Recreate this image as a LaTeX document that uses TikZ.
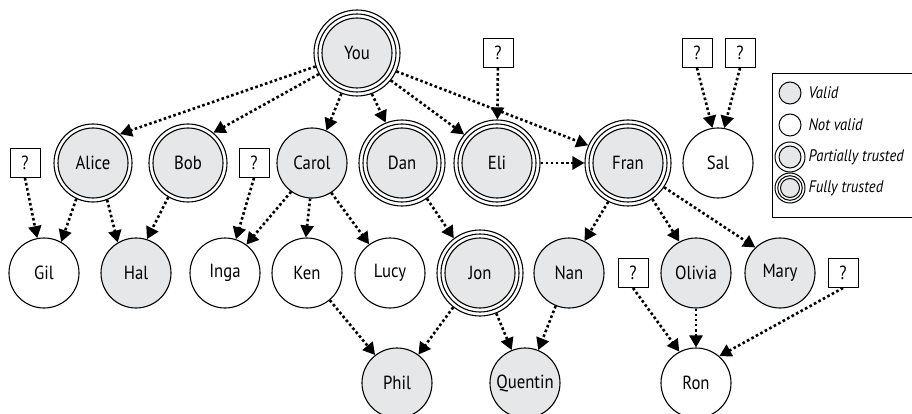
\documentclass[tikz,border=0pt]{standalone}
\usepackage{fontspec}
\setmainfont{PT Sans}[FakeStretch=0.88]
\usepackage{tikz}
\usetikzlibrary{arrows.meta}
\definecolor{validgrey}{RGB}{230,231,232}
\tikzset{
ring/.style={circle,draw,line width=1.1pt,inner sep=0pt,minimum size=#1},
notvalid/.style={ring=70pt},
valid/.style={ring=70pt,fill=validgrey},
partial/.style={ring=78pt,path picture={\draw[line width=1.1pt,fill=validgrey] (path picture bounding box.center) circle (35pt);}},
fully/.style={ring=86pt,path picture={\draw[line width=1.1pt,fill=validgrey] (path picture bounding box.center) circle (35pt);\draw[line width=1.1pt] (path picture bounding box.center) circle (39pt);}},
unknown/.style={draw,line width=0.9pt,minimum width=30pt,minimum height=29pt,inner sep=0pt,fill=white},
link/.style={line width=2.6pt,dash pattern=on 2.6pt off 2.5pt,-{Triangle[length=12pt,width=13pt]}},
legend/.style={anchor=west,font=\fontsize{16.7}{19}\selectfont\itshape}
}
\begin{document}
\begin{tikzpicture}[x=1pt,y=-1pt,font=\fontsize{19}{21}\selectfont]
\useasboundingbox (0,0) rectangle (912,414);
\node[fully] (you) at (357,53) {You};
\node[partial] (alice) at (93,163) {Alice};\node[partial] (bob) at (188,163) {Bob};\node[valid] (carol) at (312,163) {Carol};
\node[fully] (dan) at (402,163) {Dan};\node[fully] (eli) at (497,163) {Eli};\node[fully] (fran) at (628,163) {Fran};\node[notvalid] (sal) at (718,163) {Sal};
\node[notvalid] (gil) at (44,273) {Gil};\node[valid] (hal) at (136,273) {Hal};\node[notvalid] (inga) at (225,273) {Inga};\node[notvalid] (ken) at (307,273) {Ken};
\node[notvalid] (lucy) at (390,273) {Lucy};\node[fully] (jon) at (480,273) {Jon};\node[valid] (nan) at (569,273) {Nan};\node[valid] (olivia) at (696,273) {Olivia};\node[valid] (mary) at (780,273) {Mary};
\node[valid] (phil) at (397,383) {Phil};\node[valid] (quentin) at (525,383) {Quentin};\node[notvalid] (ron) at (696,383) {Ron};
\node[unknown] (qgil) at (25,163) {?};\node[unknown] (qinga) at (254,163) {?};\node[unknown] (qeli) at (498,53) {?};
\node[unknown] (qsal) at (697,53) {?};\node[unknown] (qsalb) at (740,53) {?};\node[unknown] (qron) at (633,273) {?};\node[unknown] (qronb) at (843,273) {?};
\draw[link] (you.198) -- (alice.47);\draw[link] (you.209) -- (bob.50);\draw[link] (you.249) -- (carol.66);
\draw[link] (you.290) -- (dan.112);\draw[link] (you.321) -- (eli.139);\draw[link] (you.335) -- (fran.156);
\draw[link] (qgil.south) -- (gil.101);\draw[link] (alice.245) -- (gil.61);\draw[link] (alice.291) -- (hal.121);\draw[link] (bob.240) -- (hal.72);
\draw[link] (qinga.south) -- (inga.72);\draw[link] (carol.234) -- (inga.53);\draw[link] (carol.267) -- (ken.92);\draw[link] (carol.303) -- (lucy.126);
\draw[link] (dan.305) -- (jon.127);\draw[link] (qeli) -- (eli);\draw[link] (eli) -- (fran);
\draw[link] (qsal.south) -- (sal.99);\draw[link] (qsalb.south) -- (sal.80);
\draw[link] (fran.243) -- (nan.64);\draw[link] (fran.304) -- (olivia.118);\draw[link] (fran.326) -- (mary.134);
\draw[link] (ken.310) -- (phil.128);\draw[link] (jon.232) -- (phil.53);\draw[link] (jon.292) -- (quentin.112);\draw[link] (nan.248) -- (quentin.68);
\draw[link] (qron.south) -- (ron.118);\draw[link] (olivia) -- (ron);\draw[link] (qronb.south) -- (ron.49);
\draw[line width=0.9pt] (772,73) rectangle (930,217);
\draw[line width=1pt,fill=validgrey] (790,93) circle (11pt);\node[legend] (kvalid) at (805,93) {Valid};
\draw[line width=1pt] (790,125) circle (11pt);\node[legend] (knotvalid) at (805,125) {Not valid};
\draw[line width=1pt] (790,157) circle (15pt);\draw[line width=1pt,fill=validgrey] (790,157) circle (11pt);\node[legend] (kpartial) at (805,157) {Partially trusted};
\draw[line width=1pt] (790,188) circle (15pt) (790,188) circle (12.3pt);\draw[line width=1pt,fill=validgrey] (790,188) circle (9.5pt);\node[legend] (kfully) at (805,188) {Fully trusted};
\end{tikzpicture}
\end{document}
